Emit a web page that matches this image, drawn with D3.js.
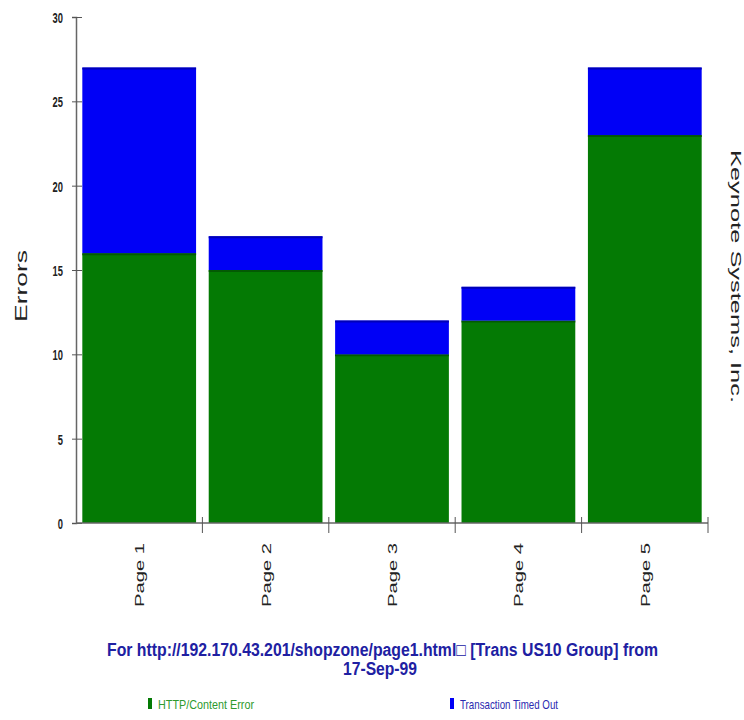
<!DOCTYPE html>
<html>
<head>
<meta charset="utf-8">
<script src="https://cdn.jsdelivr.net/npm/d3@7"></script>
<style>
  body { margin: 0; background: #fff; }
  svg { display: block; }
  text { font-family: "Liberation Sans", Arial, sans-serif; }
</style>
</head>
<body>
<svg id="chart" width="744" height="720"></svg>
<script>
// Error counts per page, stacked by error type
const pages = ["Page 1", "Page 2", "Page 3", "Page 4", "Page 5"];
const httpErrors = [16, 15, 10, 12, 23];
const timedOut = [11, 2, 2, 2, 4];
const seriesNames = ["HTTP/Content Error", "Transaction Timed Out"];
const seriesColors = ["#047a04", "#0000f6"];
const yTicks = [0, 5, 10, 15, 20, 25, 30];

const svg = d3.select("#chart");
const margin = { left: 76, right: 36, top: 17, bottom: 197 };
const W = 744, H = 720;

const x = d3.scaleBand().domain(pages)
  .range([margin.left, W - margin.right])
  .paddingInner(0.1).paddingOuter(0.05);
const y = d3.scaleLinear().domain([0, 30]).range([H - margin.bottom, margin.top]);

const rows = pages.map((p, i) => ({ page: p, http: httpErrors[i], timeout: timedOut[i] }));
const stack = d3.stack().keys(["http", "timeout"])(rows);

// stacked bars
const layers = svg.append("g").selectAll("g").data(stack).join("g")
  .attr("fill", (d, i) => seriesColors[i]);
layers.selectAll("rect").data(d => d).join("rect")
  .attr("x", d => x(d.data.page))
  .attr("width", x.bandwidth())
  .attr("y", d => y(d[1]))
  .attr("height", d => y(d[0]) - y(d[1]));

// darker top edge on each segment
layers.selectAll("line").data(d => d).join("line")
  .attr("x1", d => x(d.data.page))
  .attr("x2", d => x(d.data.page) + x.bandwidth())
  .attr("y1", d => y(d[1]) + 1)
  .attr("y2", d => y(d[1]) + 1)
  .attr("stroke", (d, i, n) => d3.select(n[i].parentNode).datum().key === "http" ? "#035a03" : "#0000b8")
  .attr("stroke-width", 2);

// y axis: ticks cross the axis line, tall narrow labels
const yAxis = svg.append("g").attr("transform", `translate(${margin.left},0)`)
  .call(d3.axisLeft(y).tickValues(yTicks).tickSize(4).tickPadding(9));
yAxis.select(".domain").attr("stroke", "#666").attr("stroke-width", 1.5);
yAxis.selectAll(".tick line").attr("x2", 6).attr("x1", -4).attr("stroke", "#555");
yAxis.selectAll("text")
  .attr("font-size", 15).attr("font-weight", "bold").attr("fill", "#222")
  .attr("font-family", "'Liberation Sans', Arial, sans-serif")
  .attr("dy", "0.36em")
  .attr("textLength", d => String(d).length * 5.2)
  .attr("lengthAdjust", "spacingAndGlyphs");

// x axis line with separators between categories
const y0 = y(0);
svg.append("line").attr("x1", margin.left).attr("x2", W - margin.right)
  .attr("y1", y0).attr("y2", y0).attr("stroke", "#666").attr("stroke-width", 1.5);
const step = x.step();
const bounds = pages.map((p, i) => x(p) + x.bandwidth() + step * x.paddingInner() / 2);
bounds[bounds.length - 1] = W - margin.right;
svg.append("g").selectAll("line").data(bounds).join("line")
  .attr("x1", d => d).attr("x2", d => d)
  .attr("y1", y0 - 6).attr("y2", y0 + 10)
  .attr("stroke", "#555").attr("stroke-width", 1);

// rotated category labels
svg.append("g").selectAll("text").data(pages).join("text")
  .attr("transform", d => `translate(${x(d) + x.bandwidth() / 2 + 5},${y0 + 20}) rotate(-90)`)
  .attr("text-anchor", "end")
  .attr("font-size", 13)
  .attr("fill", "#222")
  .attr("textLength", 64)
  .attr("lengthAdjust", "spacingAndGlyphs")
  .text(d => d);

// axis titles
svg.append("text")
  .attr("transform", `translate(27,322) rotate(-90)`)
  .attr("font-size", 16).attr("fill", "#222")
  .attr("textLength", 72).attr("lengthAdjust", "spacingAndGlyphs")
  .text("Errors");
svg.append("text")
  .attr("transform", `translate(731,150) rotate(90)`)
  .attr("font-size", 15).attr("fill", "#222")
  .attr("font-family", "'DejaVu Sans', sans-serif")
  .attr("textLength", 253).attr("lengthAdjust", "spacingAndGlyphs")
  .text("Keynote Systems, Inc.");

// caption
const caption = svg.append("g").attr("font-size", 18).attr("font-weight", "bold").attr("fill", "#2020a2");
caption.append("text").attr("x", 107).attr("y", 656)
  .attr("textLength", 551).attr("lengthAdjust", "spacingAndGlyphs")
  .text("For http://192.170.43.201/shopzone/page1.html\u25A1 [Trans US10 Group] from");
caption.append("text").attr("x", 343).attr("y", 675)
  .attr("textLength", 74).attr("lengthAdjust", "spacingAndGlyphs")
  .text("17-Sep-99");

// legend
const legendX = [148, 450];
const legendText = ["#2e9a2e", "#2a2ab0"];
const legendLen = [96, 98];
const legend = svg.append("g").selectAll("g").data(seriesNames).join("g")
  .attr("transform", (d, i) => `translate(${legendX[i]},698)`);
legend.append("rect").attr("width", 4).attr("height", 11)
  .attr("fill", (d, i) => seriesColors[i]);
legend.append("text").attr("x", 10).attr("y", 10.5)
  .attr("font-size", 13).attr("fill", (d, i) => legendText[i])
  .attr("textLength", (d, i) => legendLen[i]).attr("lengthAdjust", "spacingAndGlyphs")
  .text(d => d);
</script>
</body>
</html>
